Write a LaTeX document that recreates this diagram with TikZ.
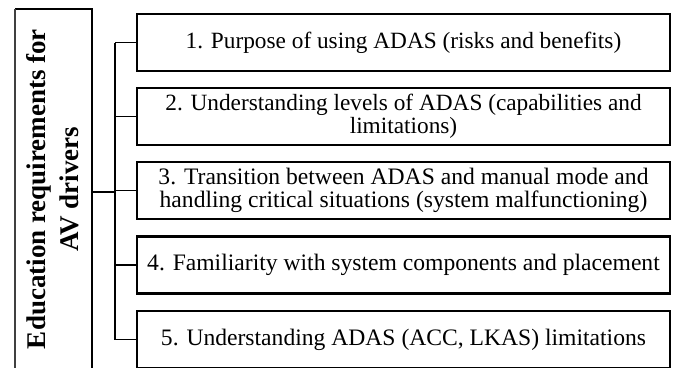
\documentclass[tikz,border=0pt]{standalone}
\usepackage{fontspec}
\setmainfont{Liberation Serif}
\newcommand{\fs}[1]{\fontsize{#1}{23}\selectfont}
\begin{document}
\begin{tikzpicture}[x=1pt,y=-1pt,
  itembox/.style={draw=black, line width=2.2pt, minimum width=533pt, minimum height=57pt,
    inner sep=0pt, align=center},
  link/.style={draw=black, line width=1.3pt},
  frame/.style={draw=black, line width=2.2pt}]
\useasboundingbox (0,0) rectangle (676,367);
\clip (0,0) rectangle (676,367);

% heading column (open at the bottom, beyond the page edge)
\coordinate (hTL) at (15,9);
\coordinate (hTR) at (92,9);
\coordinate (hBL) at (15,380);
\coordinate (hBR) at (92,380);
\draw[frame] (hBR) -- (hTR) -- (hTL);
\draw[black!75, line width=1.4pt] (hTL) -- (hBL);
\node[rotate=90, align=center, font=\bfseries\fontsize{27}{33}\selectfont] (title) at (53,189)
  {Education requirements for\\AV drivers};

% requirement boxes
\node[itembox, font=\fs{23.3}] (b1) at (403.5,42.5) {1. Purpose of using ADAS (risks and benefits)};
\node[itembox, font=\fs{23.3}] (b2) at (403.5,116.5) {2. Understanding levels of ADAS (capabilities and\\limitations)};
\node[itembox, font=\fs{23.6}] (b3) at (403.5,190.5) {3. Transition between ADAS and manual mode and\\handling critical situations (system malfunctioning)};
\node[itembox, font=\fs{23.6}] (b4) at (403.5,265) {4. Familiarity with system components and placement};
\node[itembox, font=\fs{23.6}] (b5) at (403.5,339.5) {5. Understanding ADAS (ACC, LKAS) limitations};

% tree connectors
\coordinate (trunk) at (115,192);
\draw[link] (hTR |- trunk) -- (trunk);
\draw[link] (trunk |- b1.west) -- (trunk |- b5.west);
\foreach \b in {b1,b2,b3,b4,b5}
  \draw[link] (trunk |- \b.west) -- (\b.west);
\end{tikzpicture}
\end{document}
